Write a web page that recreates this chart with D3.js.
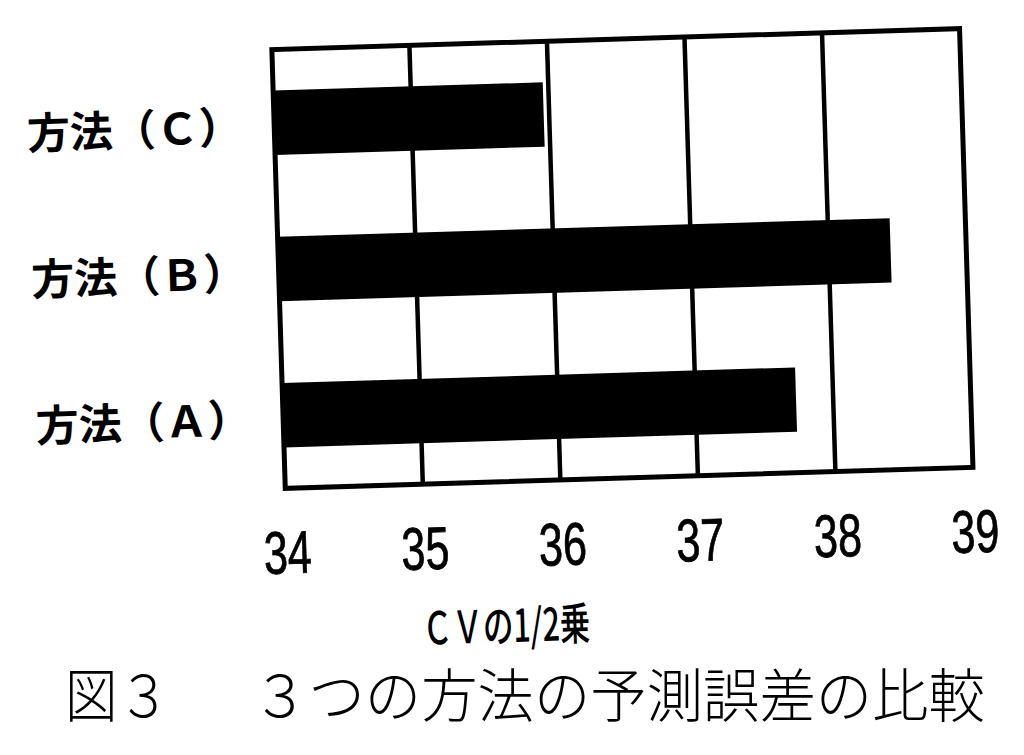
<!DOCTYPE html>
<html>
<head>
<meta charset="utf-8">
<script src="https://cdn.jsdelivr.net/npm/d3@7"></script>
<style>
  html, body { margin: 0; padding: 0; background: #fff; }
  svg { display: block; }
</style>
</head>
<body>
<svg id="chart" width="1024" height="755"></svg>
<script>
// ---- data ----
const categories = ["方法（Ｃ）", "方法（Ｂ）", "方法（Ａ）"];
const values = [35.96, 38.45, 37.73];
const xTicks = [34, 35, 36, 37, 38, 39];
const xTitle = "ＣＶの1/2乗";
const captionHead = "図３";
const captionBody = "３つの方法の予測誤差の比較";

// ---- layout ----
const svg = d3.select("#chart");
const plot = { left: 278.4, right: 966.4, top: 39, bottom: 478 };
const jp = "'Noto Sans CJK JP', 'Noto Sans CJK SC', sans-serif";

const x = d3.scaleLinear().domain([34, 39]).range([plot.left, plot.right]);
const y = d3.scaleBand().domain(categories).range([plot.top, plot.bottom])
  .paddingInner(0.56).paddingOuter(0.28);

// the scanned figure is slightly tilted
const g = svg.append("g").attr("transform", "rotate(-1.75, 622.4, 258.25)");

// grid lines
g.append("g").selectAll("line").data(xTicks.slice(1, -1)).join("line")
  .attr("x1", d => x(d)).attr("x2", d => x(d))
  .attr("y1", plot.top).attr("y2", plot.bottom)
  .attr("stroke", "#000").attr("stroke-width", 4.5);

// bars
g.append("g").selectAll("rect").data(values).join("rect")
  .attr("x", x(34))
  .attr("y", (d, i) => y(categories[i]))
  .attr("width", d => x(d) - x(34))
  .attr("height", y.bandwidth())
  .attr("fill", "#000");

// frame
g.append("rect")
  .attr("x", plot.left).attr("y", plot.top)
  .attr("width", plot.right - plot.left).attr("height", plot.bottom - plot.top)
  .attr("fill", "none").attr("stroke", "#000").attr("stroke-width", 5);

// x axis tick labels
const xAxis = d3.axisBottom(x).tickValues(xTicks).tickSize(0).tickFormat(d3.format("d"));
const ax = g.append("g").attr("transform", `translate(0, ${plot.bottom})`).call(xAxis);
ax.select(".domain").remove();
ax.selectAll("text")
  .attr("y", 85).attr("dy", null)
  .attr("fill", "#000")
  .attr("font-family", "'Liberation Sans', Arial, sans-serif")
  .attr("font-size", 60)
  .attr("textLength", 48)
  .attr("lengthAdjust", "spacingAndGlyphs")
  .attr("stroke", "#000").attr("stroke-width", 0.8);

// category labels
g.append("g").selectAll("text").data(categories).join("text")
  .attr("x", 31)
  .attr("y", d => y(d) + y.bandwidth() / 2)
  .attr("dominant-baseline", "central")
  .attr("font-family", jp)
  .attr("font-weight", 700)
  .attr("font-size", 43)
  .attr("fill", "#000")
  .text(d => d);

// x axis title
g.append("text")
  .attr("x", 495).attr("y", 619)
  .attr("text-anchor", "middle")
  .attr("dominant-baseline", "central")
  .attr("font-family", jp)
  .attr("font-weight", 500)
  .attr("font-size", 45)
  .attr("textLength", 168)
  .attr("lengthAdjust", "spacingAndGlyphs")
  .attr("fill", "#000")
  .text(xTitle);

// caption
svg.append("text")
  .attr("x", 65).attr("y", 692)
  .attr("dominant-baseline", "central")
  .attr("font-family", jp)
  .attr("font-weight", 300)
  .attr("font-size", 58)
  .attr("textLength", 105)
  .attr("lengthAdjust", "spacingAndGlyphs")
  .attr("fill", "#000")
  .text(captionHead);
svg.append("text")
  .attr("x", 252).attr("y", 692)
  .attr("dominant-baseline", "central")
  .attr("font-family", jp)
  .attr("font-weight", 300)
  .attr("font-size", 58)
  .attr("textLength", 733)
  .attr("lengthAdjust", "spacingAndGlyphs")
  .attr("fill", "#000")
  .text(captionBody);
</script>
</body>
</html>
